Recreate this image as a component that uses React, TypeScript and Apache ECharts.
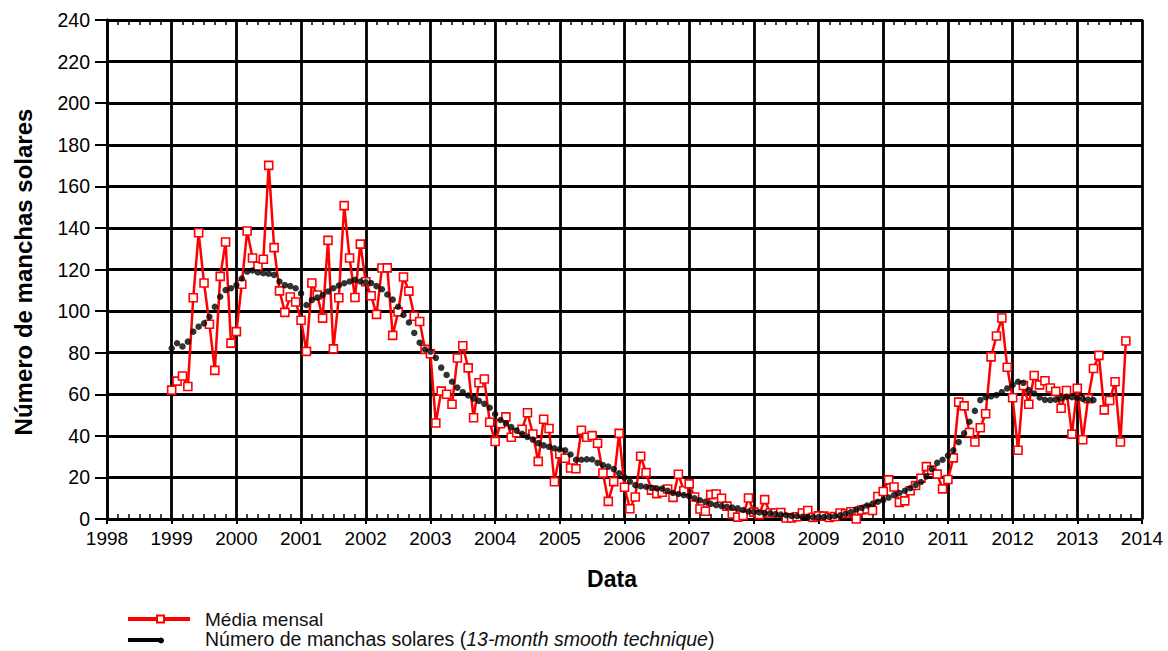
import React, { useEffect, useRef } from "react";
import * as echarts from "echarts";

// Monthly mean sunspot numbers, one array per year (Jan..Dec)
const START_YEAR = 1999;
const monthly1999 = [62.0, 66.3, 68.8, 63.7, 106.4, 137.7, 113.5, 93.7, 71.5, 116.7, 133.2, 84.6];
const monthly2000 = [90.1, 112.9, 138.5, 125.5, 121.6, 124.9, 170.1, 130.5, 109.7, 99.4, 106.8, 104.4];
const monthly2001 = [95.6, 80.6, 113.5, 107.7, 96.6, 134.0, 81.8, 106.4, 150.7, 125.5, 106.5, 132.2];
const monthly2002 = [114.1, 107.4, 98.4, 120.7, 120.8, 88.3, 99.6, 116.4, 109.6, 97.5, 95.0, 81.6];
const monthly2003 = [79.5, 46.2, 61.5, 60.0, 55.2, 77.4, 83.3, 72.7, 48.7, 65.5, 67.3, 46.5];
const monthly2004 = [37.3, 45.8, 49.1, 39.3, 41.5, 43.2, 51.1, 40.9, 27.7, 48.0, 43.5, 17.9];
const monthly2005 = [31.3, 29.2, 24.5, 24.2, 42.7, 39.3, 40.1, 36.4, 22.1, 8.5, 18.0, 41.2];
const monthly2006 = [15.3, 4.9, 10.6, 30.2, 22.3, 13.9, 12.2, 12.9, 14.4, 10.4, 21.5, 13.6];
const monthly2007 = [16.9, 10.6, 4.8, 3.7, 11.7, 12.0, 10.0, 6.2, 2.4, 0.9, 1.7, 10.1];
const monthly2008 = [3.3, 2.1, 9.3, 2.9, 2.9, 3.1, 0.5, 0.5, 1.1, 2.9, 4.1, 0.8];
const monthly2009 = [1.5, 1.4, 0.7, 1.2, 2.9, 2.6, 3.5, 0.0, 4.3, 4.8, 4.1, 10.8];
const monthly2010 = [13.2, 18.8, 15.4, 8.0, 8.7, 13.6, 16.1, 19.6, 25.2, 23.5, 21.6, 14.5];
const monthly2011 = [19.0, 29.4, 56.2, 54.4, 41.6, 37.0, 43.9, 50.6, 78.0, 88.0, 96.7, 73.0];
const monthly2012 = [58.3, 33.1, 64.2, 55.2, 69.0, 64.5, 66.5, 63.0, 61.4, 53.3, 61.8, 40.8];
const monthly2013 = [62.9, 38.1, 57.9, 72.4, 78.7, 52.5, 57.0, 66.0, 37.0, 85.6];

// 13-month smoothed sunspot numbers, one array per year
const smooth1999 = [82.1, 84.5, 83.0, 85.3, 90.1, 92.5, 94.1, 97.3, 102.1, 106.9, 110.1, 111.0];
const smooth2000 = [112.5, 115.7, 119.0, 119.5, 118.6, 118.2, 118.0, 117.4, 114.2, 112.5, 112.0, 111.0];
const smooth2001 = [108.5, 102.9, 105.3, 106.5, 107.7, 109.4, 111.0, 112.3, 113.4, 114.2, 115.0, 114.2];
const smooth2002 = [113.8, 113.5, 112.0, 110.5, 108.0, 105.5, 102.1, 98.1, 94.5, 89.5, 84.8, 81.5];
const smooth2003 = [80.5, 77.5, 72.8, 69.3, 66.0, 63.2, 61.0, 59.4, 58.0, 56.8, 55.4, 53.5];
const smooth2004 = [50.5, 47.6, 46.0, 44.2, 42.5, 41.0, 39.5, 38.2, 36.5, 35.4, 34.7, 34.0];
const smooth2005 = [33.5, 33.0, 31.0, 28.5, 28.5, 28.7, 28.6, 27.0, 26.0, 25.2, 24.0, 22.0];
const smooth2006 = [20.0, 18.0, 16.3, 15.8, 15.5, 15.0, 14.7, 14.6, 13.6, 12.5, 12.0, 11.5];
const smooth2007 = [11.0, 10.0, 9.0, 8.3, 7.3, 6.7, 6.2, 5.9, 5.5, 5.1, 4.3, 3.6];
const smooth2008 = [3.4, 3.1, 2.9, 2.7, 2.4, 2.1, 1.8, 1.5, 1.3, 1.1, 0.9, 0.8];
const smooth2009 = [0.9, 0.9, 1.0, 1.3, 1.8, 2.5, 3.3, 4.6, 5.3, 6.5, 7.3, 8.3];
const smooth2010 = [9.1, 10.3, 11.5, 12.5, 13.6, 14.8, 16.3, 17.8, 20.5, 24.0, 27.0, 28.5];
const smooth2011 = [30.5, 33.0, 37.0, 41.2, 46.8, 52.0, 57.2, 58.6, 59.0, 59.6, 61.0, 62.8];
const smooth2012 = [64.5, 66.0, 65.5, 62.0, 60.4, 58.5, 57.3, 57.2, 57.4, 58.0, 58.8, 58.6];
const smooth2013 = [58.2, 57.8, 57.5, 57.2];

const monthlyByYear = [
  monthly1999, monthly2000, monthly2001, monthly2002, monthly2003,
  monthly2004, monthly2005, monthly2006, monthly2007, monthly2008,
  monthly2009, monthly2010, monthly2011, monthly2012, monthly2013,
];
const smoothByYear = [
  smooth1999, smooth2000, smooth2001, smooth2002, smooth2003,
  smooth2004, smooth2005, smooth2006, smooth2007, smooth2008,
  smooth2009, smooth2010, smooth2011, smooth2012, smooth2013,
];

// Axis ranges
const X_MIN = 1998;
const X_MAX = 2014;
const Y_MIN = 0;
const Y_MAX = 240;
const Y_STEP = 20;

const LEGEND_MONTHLY = "Média mensal";
const LEGEND_SMOOTH_A = "Número de manchas solares (";
const LEGEND_SMOOTH_B = "13-month smooth technique";
const LEGEND_SMOOTH_C = ")";
const X_TITLE = "Data";
const Y_TITLE = "Número de manchas solares";

const FONT = "'Liberation Sans', Arial, Helvetica, sans-serif";

function toPoints(byYear: number[][]): [number, number][] {
  const pts: [number, number][] = [];
  byYear.forEach((vals, yi) => {
    vals.forEach((v, m) => pts.push([START_YEAR + yi + m / 12, v]));
  });
  return pts;
}

export default function App() {
  const ref = useRef<HTMLDivElement>(null);

  useEffect(() => {
    if (!ref.current) return;
    const chart = echarts.init(ref.current, null, { renderer: "svg" });

    const gridColor = "#000";
    const lineW = 2.8;
    const baseAxis = {
      type: "value" as const,
      min: X_MIN,
      max: X_MAX,
      interval: 1,
      gridIndex: 0,
    };

    chart.setOption({
      animation: false,
      backgroundColor: "#fff",
      grid: { left: 107, right: 26, top: 20, bottom: 132 },
      xAxis: [
        {
          ...baseAxis,
          position: "bottom",
          axisLine: { show: true, lineStyle: { color: gridColor, width: lineW } },
          axisTick: { show: true, length: 5, lineStyle: { color: gridColor, width: 2 } },
          axisLabel: {
            color: "#000",
            fontSize: 19,
            fontFamily: FONT,
            margin: 10,
            formatter: (v: number) => String(v),
          },
          splitLine: { show: true, lineStyle: { color: gridColor, width: lineW } },
        },
        {
          ...baseAxis,
          position: "bottom",
          axisLine: { show: false },
          axisTick: { show: false, inside: true },
          axisLabel: { show: false },
          splitLine: { show: false },
          minorTick: { show: true, splitNumber: 6, length: 5, lineStyle: { color: gridColor, width: 1.5 } },
        },
        {
          ...baseAxis,
          position: "top",
          axisLine: { show: true, lineStyle: { color: gridColor, width: lineW } },
          axisTick: { show: false, inside: true },
          axisLabel: { show: false },
          splitLine: { show: false },
          minorTick: { show: true, splitNumber: 6, length: 5, lineStyle: { color: gridColor, width: 1.5 } },
        },
      ],
      yAxis: {
        type: "value",
        min: Y_MIN,
        max: Y_MAX,
        interval: Y_STEP,
        axisLine: { show: true, lineStyle: { color: gridColor, width: lineW } },
        axisTick: { show: true, length: 12, lineStyle: { color: gridColor, width: 2 } },
        axisLabel: { color: "#000", fontSize: 19.5, fontFamily: FONT, margin: 17 },
        splitLine: { show: true, lineStyle: { color: gridColor, width: lineW } },
      },
      series: [
        {
          name: LEGEND_MONTHLY,
          type: "line",
          xAxisIndex: 0,
          yAxisIndex: 0,
          data: toPoints(monthlyByYear),
          symbol: "rect",
          symbolSize: 8,
          showSymbol: true,
          lineStyle: { color: "#ff0000", width: 2.5 },
          itemStyle: { color: "#ffffff", borderColor: "#ff0000", borderWidth: 1.6 },
          z: 2,
        },
        {
          name: "smooth",
          type: "scatter",
          xAxisIndex: 0,
          yAxisIndex: 0,
          data: toPoints(smoothByYear),
          symbol: "circle",
          symbolSize: 6.5,
          itemStyle: { color: "#000" },
          z: 3,
        },
      ],
      graphic: [
        {
          type: "text",
          x: 23,
          y: 272,
          rotation: Math.PI / 2,
          style: {
            text: Y_TITLE,
            fill: "#000",
            font: `bold 24px ${FONT}`,
            textAlign: "center",
            textVerticalAlign: "middle",
          },
        },
        {
          type: "text",
          x: 612,
          y: 579,
          style: {
            text: X_TITLE,
            fill: "#000",
            font: `bold 23px ${FONT}`,
            textAlign: "center",
            textVerticalAlign: "middle",
          },
        },
        // legend: monthly mean
        {
          type: "line",
          shape: { x1: 128, y1: 619, x2: 190, y2: 619 },
          style: { stroke: "#ff0000", lineWidth: 4 },
        },
        {
          type: "rect",
          shape: { x: 157, y: 615.5, width: 7, height: 7 },
          style: { fill: "#ffffff", stroke: "#ff0000", lineWidth: 2 },
        },
        {
          type: "text",
          x: 205,
          y: 619,
          style: {
            text: LEGEND_MONTHLY,
            fill: "#111",
            font: `19px ${FONT}`,
            textVerticalAlign: "middle",
          },
        },
        // legend: smoothed
        {
          type: "line",
          shape: { x1: 128, y1: 640, x2: 161, y2: 640 },
          style: { stroke: "#000", lineWidth: 4 },
        },
        {
          type: "circle",
          shape: { cx: 161, cy: 640.5, r: 3 },
          style: { fill: "#000" },
        },
        {
          type: "text",
          x: 205,
          y: 639,
          style: {
            text: `{n|${LEGEND_SMOOTH_A}}{i|${LEGEND_SMOOTH_B}}{n|${LEGEND_SMOOTH_C}}`,
            textVerticalAlign: "middle",
            rich: {
              n: { fontSize: 19.5, lineHeight: 20, fontFamily: FONT, fill: "#111" },
              i: { fontSize: 19.5, lineHeight: 20, fontFamily: FONT, fontStyle: "italic", fill: "#111" },
            },
          },
        },
      ],
    });

    return () => chart.dispose();
  }, []);

  return (
    <div
      ref={ref}
      style={{ position: "fixed", left: 0, top: 0, width: 1168, height: 651, background: "#fff" }}
    />
  );
}
